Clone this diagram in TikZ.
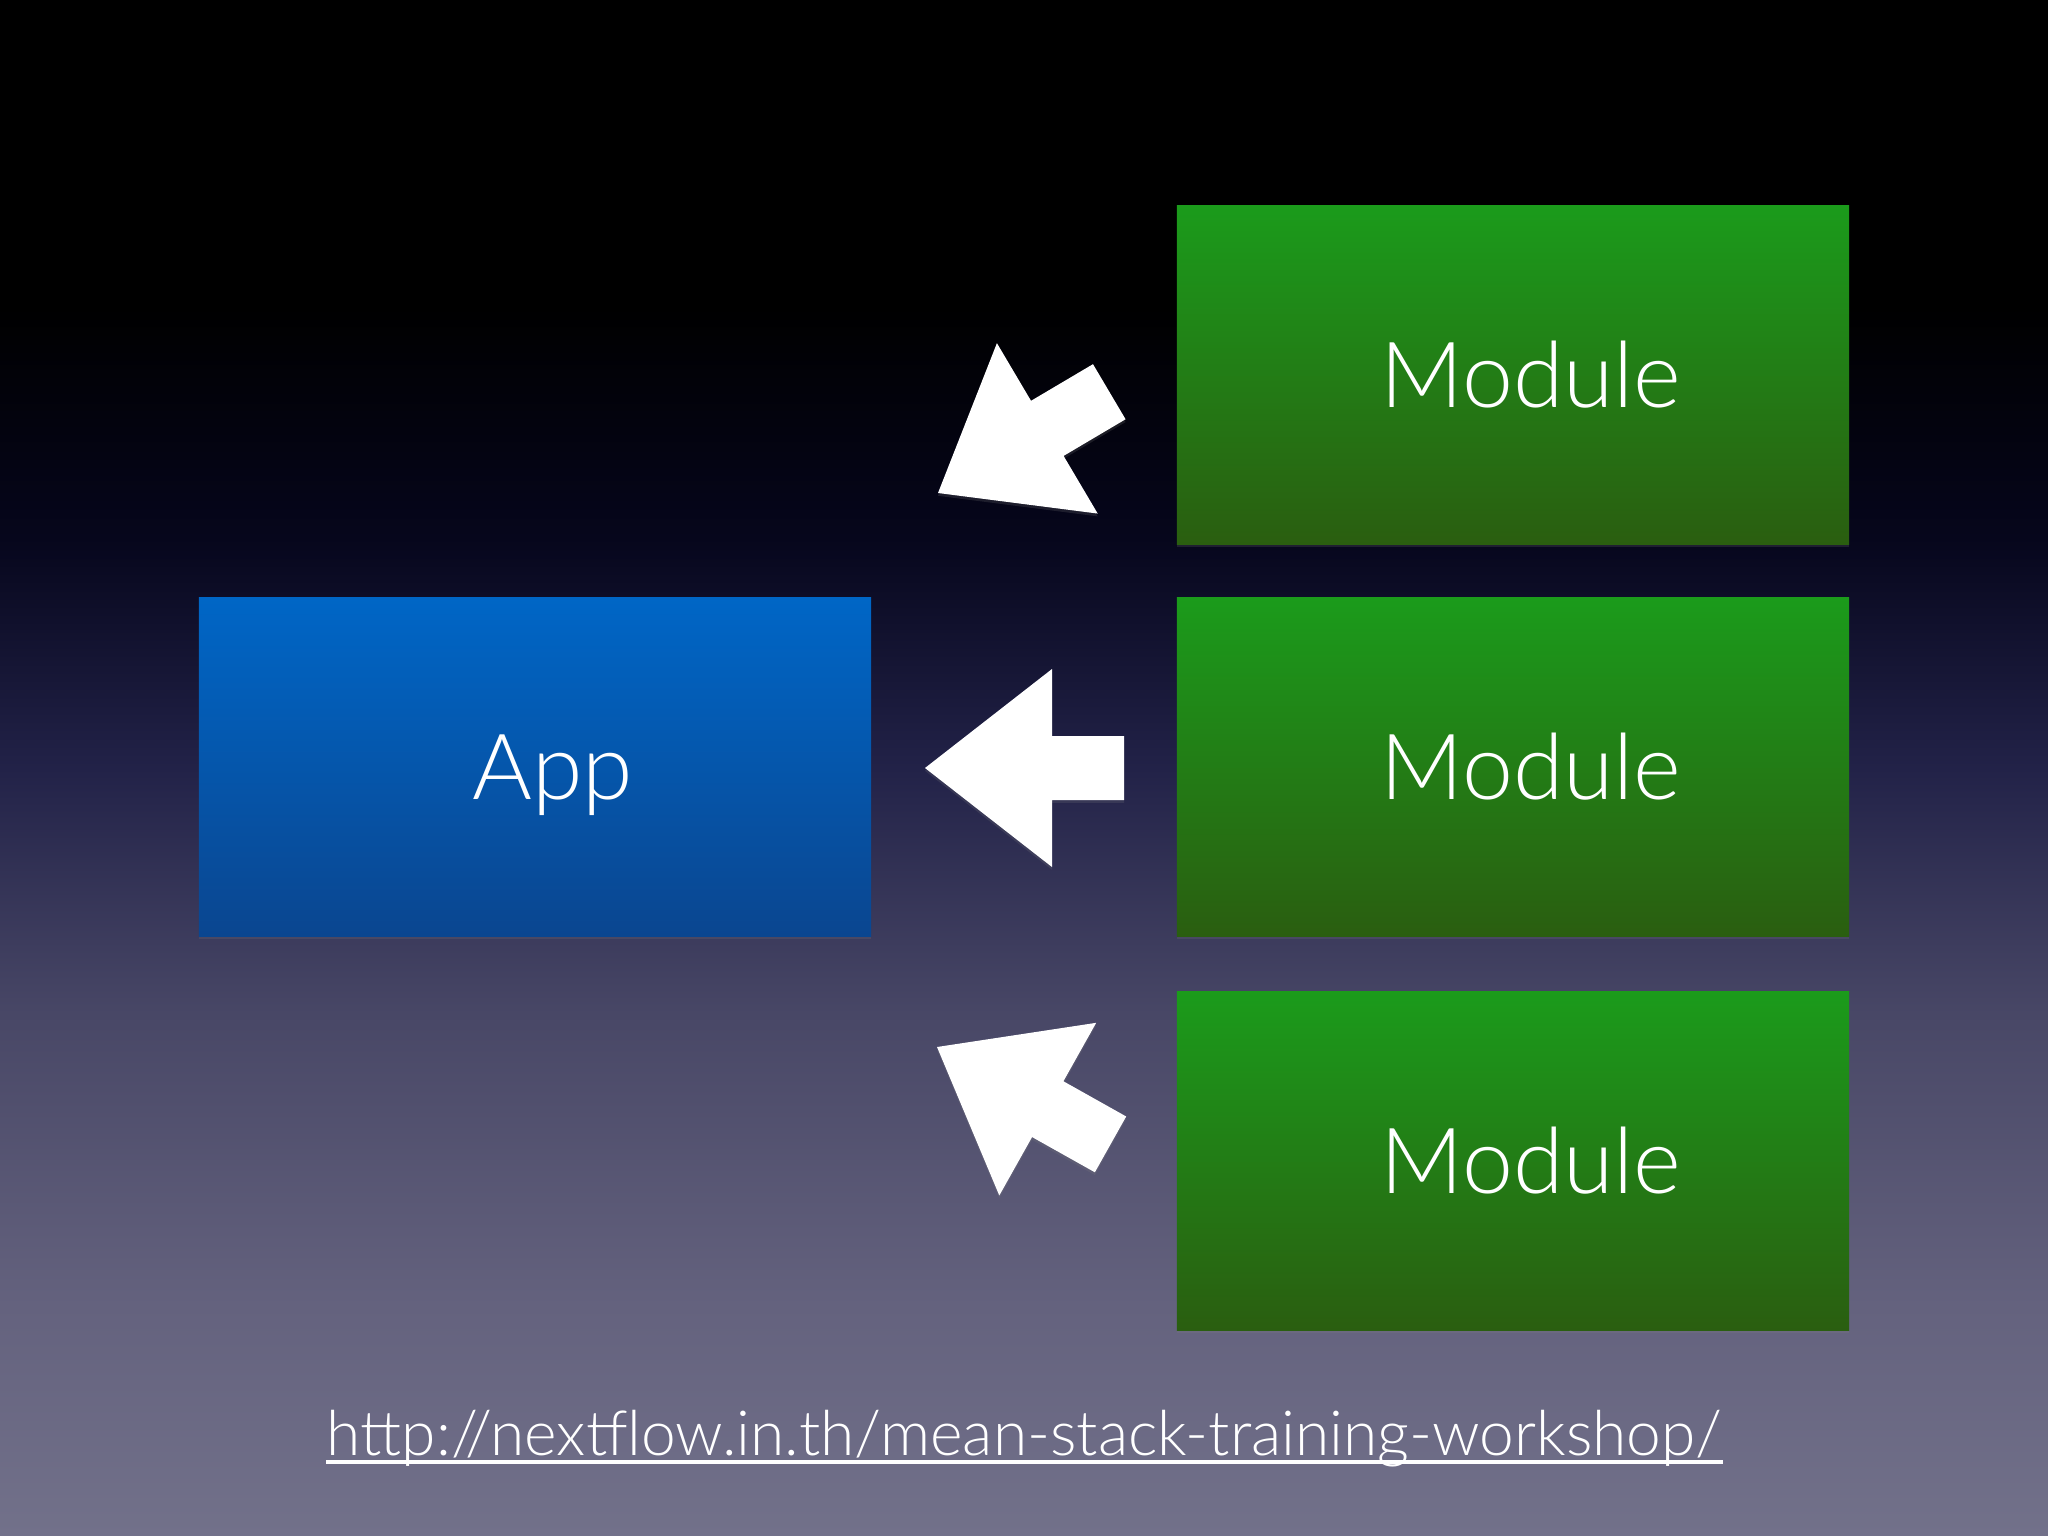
\documentclass[tikz,border=0pt]{standalone}
\usepackage{fontspec}
\setmainfont{Lato Light}
\usetikzlibrary{shadows}

\definecolor{bgtop}{HTML}{000000}
\definecolor{bgnavy}{HTML}{06061C}
\definecolor{bgcen}{HTML}{222248}
\definecolor{bgmid}{HTML}{484766}
\definecolor{bglow}{HTML}{64627E}
\definecolor{bgbot}{HTML}{72718A}
\definecolor{modtop}{HTML}{1B9B1B}
\definecolor{modbot}{HTML}{2A5E10}
\definecolor{apptop}{HTML}{0066C6}
\definecolor{appbot}{HTML}{0A4690}

\pgfdeclareverticalshading{slidebg}{100bp}{color(0bp)=(bgbot); color(25bp)=(bgbot);
  color(32.5bp)=(bglow); color(42bp)=(bgmid); color(50bp)=(bgcen);
  color(57.5bp)=(bgnavy); color(65bp)=(bgtop); color(100bp)=(bgtop)}

% block arrow, tip at #1, turned by #2
\newcommand{\pusharrow}[2]{%
  \fill[bigarrow, shift={#1}, rotate=#2] (0,0) -- (127,99) -- (127,32) -- (199,32)
    -- (199,-32) -- (127,-32) -- (127,-99) -- cycle;}

\begin{document}
\begin{tikzpicture}[x=0.01cm, y=-0.01cm,
    box/.style={minimum width=6.72cm, minimum height=3.38cm, inner sep=0pt,
      text=white, font=\fontsize{26}{30}\selectfont, text height=18.6pt, text depth=0pt,
      execute at begin node={\hspace*{0.36cm}},
      drop shadow={opacity=0.2, shadow xshift=0pt, shadow yshift=-0.8pt}},
    modbox/.style={box, top color=modtop, bottom color=modbot},
    appbox/.style={box, top color=apptop, bottom color=appbot},
    bigarrow/.style={fill=white, drop shadow={opacity=0.2, shadow xshift=0pt, shadow yshift=-0.8pt}},
    link/.style={text=white, font=\fontsize{17.7}{20}\selectfont, inner sep=0pt, anchor=base}]

  \useasboundingbox (0,0) rectangle (2048,1536);
  \shade[shading=slidebg] (0,0) rectangle (2048,1536);

  \node[appbox] (app) at (535, 767) {App};
  \node[modbox] (mod1) at (1513, 375) {Module};
  \node[modbox] (mod2) at (1513, 767) {Module};
  \node[modbox] (mod3) at (1513, 1161) {Module};

  \pusharrow{(938,493)}{30.6}
  \pusharrow{(925,768)}{0}
  \pusharrow{(937,1047)}{-29.3}

  \node[link] (url) at (1024.5, 1455) {http://nextflow.in.th/mean-stack-training-workshop/};
  \draw[white, line width=0.9pt] ([yshift=-2pt]url.base west) -- ([yshift=-2pt]url.base east);
\end{tikzpicture}
\end{document}
